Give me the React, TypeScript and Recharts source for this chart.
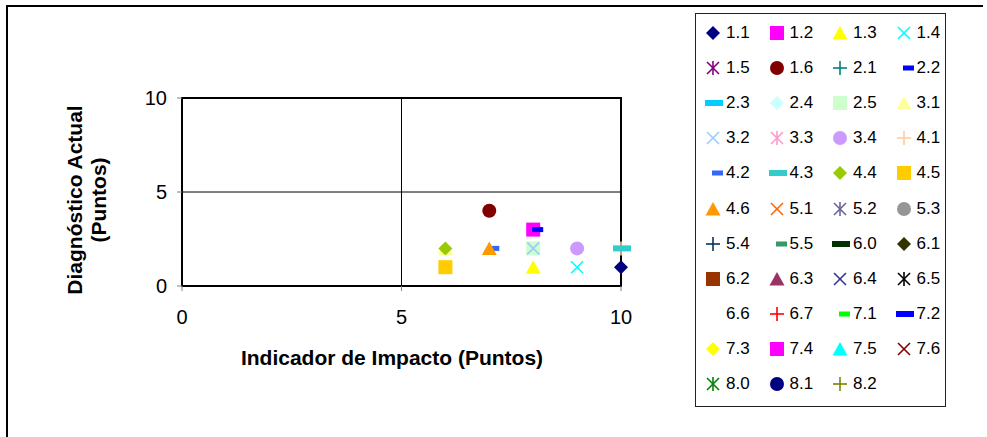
import React from 'react';
import { ScatterChart, Scatter, XAxis, YAxis, ReferenceLine, ReferenceArea, Legend } from 'recharts';

document.body.style.margin = '0';

type MarkerKind = 'diamond' | 'square' | 'triangle' | 'cross' | 'star' | 'circle' | 'plus' | 'dashS' | 'dashL' | 'none';

interface SeriesDef {
  name: string;
  marker: MarkerKind;
  color: string;
  data: { x: number; y: number }[];
}

const seriesNames = [
  '1.1', '1.2', '1.3', '1.4', '1.5', '1.6', '2.1', '2.2', '2.3', '2.4', '2.5',
  '3.1', '3.2', '3.3', '3.4', '4.1', '4.2', '4.3', '4.4', '4.5', '4.6',
  '5.1', '5.2', '5.3', '5.4', '5.5', '6.0', '6.1', '6.2', '6.3', '6.4', '6.5', '6.6', '6.7',
  '7.1', '7.2', '7.3', '7.4', '7.5', '7.6', '8.0', '8.1', '8.2',
];

const seriesMarkers: MarkerKind[] = [
  'diamond', 'square', 'triangle', 'cross', 'star', 'circle', 'plus', 'dashS', 'dashL', 'diamond', 'square',
  'triangle', 'cross', 'star', 'circle', 'plus', 'dashS', 'dashL', 'diamond', 'square', 'triangle',
  'cross', 'star', 'circle', 'plus', 'dashS', 'dashL', 'diamond', 'square', 'triangle', 'cross', 'star', 'none', 'plus',
  'dashS', 'dashL', 'diamond', 'square', 'triangle', 'cross', 'star', 'circle', 'plus',
];

const seriesColors = [
  '#000080', '#FF00FF', '#FFFF00', '#00FFFF', '#800080', '#800000', '#008080', '#0000FF', '#00CCFF', '#CCFFFF', '#CCFFCC',
  '#FFFF99', '#99CCFF', '#FF99CC', '#CC99FF', '#FFCC99', '#3366FF', '#33CCCC', '#99CC00', '#FFCC00', '#FF9900',
  '#FF6600', '#666699', '#969696', '#003366', '#339966', '#003300', '#333300', '#993300', '#993366', '#333399', '#000000', '#FFFFFF', '#FF0000',
  '#00FF00', '#0000FF', '#FFFF00', '#FF00FF', '#00FFFF', '#800000', '#008000', '#000080', '#808000',
];

// [impacto, diagnostico] per series; series not listed have no visible point
const seriesPoints: Record<string, [number, number][]> = {
  '1.1': [[10, 1]],
  '1.2': [[8, 3]],
  '1.3': [[8, 1]],
  '1.4': [[9, 1]],
  '1.6': [[7, 4]],
  '2.2': [[8, 3]],
  '2.5': [[8, 2]],
  '3.1': [[6, 2]],
  '3.2': [[8, 2]],
  '3.4': [[9, 2]],
  '4.1': [[10, 2]],
  '4.2': [[7, 2]],
  '4.3': [[10, 2]],
  '4.4': [[6, 2]],
  '4.5': [[6, 1]],
  '4.6': [[7, 2]],
};

const axisTicks = [0, 5, 10];

const series: SeriesDef[] = seriesNames.map((name, i) => ({
  name,
  marker: seriesMarkers[i],
  color: seriesColors[i],
  data: (seriesPoints[name] || []).map(([x, y]) => ({ x, y })),
}));

const FONT = 'Arial, "Liberation Sans", sans-serif';
const titleStyle = { fill: '#000', fontSize: 21, fontWeight: 'bold' as const, fontFamily: FONT };

function drawMarker(kind: MarkerKind, color: string, cx: number, cy: number) {
  switch (kind) {
    case 'diamond':
      return <polygon points={`${cx},${cy - 7} ${cx + 7},${cy} ${cx},${cy + 7} ${cx - 7},${cy}`} fill={color} />;
    case 'square':
      return <rect x={cx - 7} y={cy - 7} width={14} height={14} fill={color} />;
    case 'triangle':
      return <polygon points={`${cx},${cy - 7} ${cx + 7.5},${cy + 6.5} ${cx - 7.5},${cy + 6.5}`} fill={color} />;
    case 'circle':
      return <circle cx={cx} cy={cy} r={7} fill={color} />;
    case 'cross':
      return (
        <g stroke={color} strokeWidth={1.6}>
          <line x1={cx - 6} y1={cy - 6} x2={cx + 6} y2={cy + 6} />
          <line x1={cx - 6} y1={cy + 6} x2={cx + 6} y2={cy - 6} />
        </g>
      );
    case 'star':
      return (
        <g stroke={color} strokeWidth={1.6}>
          <line x1={cx - 6} y1={cy - 6} x2={cx + 6} y2={cy + 6} />
          <line x1={cx - 6} y1={cy + 6} x2={cx + 6} y2={cy - 6} />
          <line x1={cx} y1={cy - 7} x2={cx} y2={cy + 7} />
        </g>
      );
    case 'plus':
      return (
        <g stroke={color} strokeWidth={1.6}>
          <line x1={cx - 7} y1={cy} x2={cx + 7} y2={cy} />
          <line x1={cx} y1={cy - 7} x2={cx} y2={cy + 7} />
        </g>
      );
    case 'dashS':
      return <rect x={cx - 1} y={cy - 2.5} width={11} height={5} fill={color} />;
    case 'dashL':
      return <rect x={cx - 8} y={cy - 3} width={18} height={6} fill={color} />;
    default:
      return <g />;
  }
}

function LegendBox() {
  return (
    <div
      style={{
        position: 'relative',
        width: 251,
        height: 394,
        border: '1px solid #222',
        boxSizing: 'border-box',
        background: '#fff',
        fontFamily: FONT,
        fontSize: 17,
        color: '#000',
      }}
    >
      {series.map((s, i) => {
        const col = i % 4;
        const row = Math.floor(i / 4);
        const cx = 17 + col * 63.5;
        const cy = 19 + row * 35.1;
        return (
          <div
            key={s.name}
            style={{ position: 'absolute', left: cx - 10, top: cy - 10, height: 20, display: 'flex', alignItems: 'center' }}
          >
            <svg width={20} height={20} style={{ overflow: 'visible' }}>
              {drawMarker(s.marker, s.color, 10, 10)}
            </svg>
            <span style={{ marginLeft: 3, lineHeight: '20px' }}>{s.name}</span>
          </div>
        );
      })}
    </div>
  );
}

export default function App() {
  return (
    <div style={{ position: 'relative', width: 987, height: 437, background: '#fff', overflow: 'hidden' }}>
      <div
        style={{
          position: 'absolute',
          left: 6,
          top: 5,
          width: 977,
          height: 440,
          borderTop: '2px solid #000',
          borderLeft: '2px solid #000',
          boxSizing: 'border-box',
        }}
      />
      <ScatterChart width={987} height={437} margin={{ top: 98, right: 366, bottom: 0, left: 0 }} style={{ position: 'absolute', left: 0, top: 0 }}>
        <XAxis
          type="number"
          dataKey="x"
          domain={[0, 10]}
          ticks={axisTicks}
          height={151}
          axisLine={{ stroke: '#000', strokeWidth: 2 }}
          tickLine={{ stroke: '#808080' }}
          tickSize={5}
          tickMargin={19}
          tick={{ fill: '#000', fontSize: 20, fontFamily: FONT }}
          label={{
            content: () => (
              <text x={392} y={365} textAnchor="middle" style={titleStyle}>
                Indicador de Impacto (Puntos)
              </text>
            ),
          }}
        />
        <YAxis
          type="number"
          dataKey="y"
          domain={[0, 10]}
          ticks={axisTicks}
          width={182}
          axisLine={{ stroke: '#000', strokeWidth: 2 }}
          tickLine={{ stroke: '#808080' }}
          tickSize={5}
          tickMargin={10}
          tick={{ fill: '#000', fontSize: 20, fontFamily: FONT }}
          label={{
            content: () => (
              <text transform="translate(0,200) rotate(-90)" textAnchor="middle" style={titleStyle}>
                <tspan x={0} y={82}>Diagnóstico Actual</tspan>
                <tspan x={0} y={106}>(Puntos)</tspan>
              </text>
            ),
          }}
        />
        <ReferenceLine x={5} stroke="#000" strokeWidth={1} />
        <ReferenceLine y={5} stroke="#000" strokeWidth={1} />
        <ReferenceArea x1={0} x2={10} y1={0} y2={10} fill="none" stroke="#000" strokeWidth={2} ifOverflow="visible" />
        {series.map((s) => (
          <Scatter
            key={s.name}
            name={s.name}
            data={s.data}
            isAnimationActive={false}
            shape={(p: any) => drawMarker(s.marker, s.color, p.cx, p.cy)}
          />
        ))}
        <Legend
          layout="vertical"
          align="center"
          verticalAlign="middle"
          content={() => <LegendBox />}
          wrapperStyle={{ position: 'absolute', left: 695, top: 13, width: 251, height: 394 }}
        />
      </ScatterChart>
    </div>
  );
}
